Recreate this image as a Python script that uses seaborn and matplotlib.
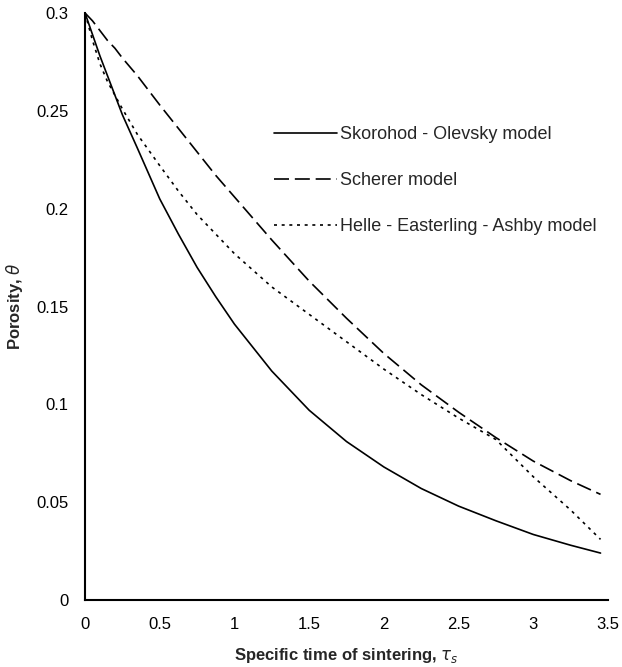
import numpy as np
import pandas as pd
import matplotlib
matplotlib.use("Agg")
import matplotlib.pyplot as plt
import seaborn as sns

time = [0, 0.05, 0.1, 0.15, 0.2, 0.25, 0.35, 0.5, 0.625, 0.75, 0.875, 1.0, 1.25, 1.5, 1.75, 2.0, 2.25, 2.5, 2.75, 3.0, 3.25, 3.45]
skorohod = [0.300, 0.289, 0.278, 0.268, 0.258, 0.248, 0.231, 0.205, 0.187, 0.170, 0.155, 0.141, 0.117, 0.097, 0.081, 0.068, 0.057, 0.048, 0.0405, 0.0335, 0.028, 0.024]
scherer = [0.300, 0.296, 0.291, 0.286, 0.282, 0.277, 0.268, 0.253, 0.241, 0.229, 0.217, 0.206, 0.184, 0.163, 0.144, 0.126, 0.110, 0.096, 0.083, 0.071, 0.061, 0.054]
helle = [0.300, 0.286, 0.274, 0.265, 0.258, 0.251, 0.238, 0.222, 0.209, 0.197, 0.187, 0.177, 0.160, 0.146, 0.132, 0.118, 0.105, 0.093, 0.082, 0.063, 0.046, 0.031]

labels = ["Skorohod - Olevsky model", "Scherer model", "Helle - Easterling - Ashby model"]
x_ticks = [0, 0.5, 1, 1.5, 2, 2.5, 3, 3.5]
x_tick_labels = ["0", "0.5", "1", "1.5", "2", "2.5", "3", "3.5"]
y_ticks = [0, 0.05, 0.1, 0.15, 0.2, 0.25, 0.3]
y_tick_labels = ["0", "0.05", "0.1", "0.15", "0.2", "0.25", "0.3"]

df = pd.concat([
    pd.DataFrame({"t": time, "theta": skorohod, "model": labels[0]}),
    pd.DataFrame({"t": time, "theta": scherer, "model": labels[1]}),
    pd.DataFrame({"t": time, "theta": helle, "model": labels[2]}),
], ignore_index=True)

sns.set_style("white")
plt.rcParams["font.family"] = ["Liberation Sans", "DejaVu Sans"]

fig = plt.figure(figsize=(6.22, 6.67), dpi=100)
ax = fig.add_axes([0.1367, 0.1004, 0.8408, 0.8801])

sns.lineplot(data=df, x="t", y="theta", hue="model", style="model",
             palette={l: "black" for l in labels},
             dashes={labels[0]: "", labels[1]: (9, 3.5), labels[2]: (1.8, 2.8)},
             linewidth=1.2, ax=ax, legend=True)

ax.set_xlim(0, 3.5)
ax.set_ylim(0, 0.3)
ax.set_xticks(x_ticks)
ax.set_xticklabels(x_tick_labels)
ax.set_yticks(y_ticks)
ax.set_yticklabels(y_tick_labels)
ax.tick_params(axis="x", direction="inout", length=9, width=1.2, labelsize=12, pad=8, colors="black")
ax.tick_params(axis="y", direction="out", length=6, width=1.2, labelsize=12, pad=6, colors="black")
for s in ["top", "right"]:
    ax.spines[s].set_visible(False)
for s in ["left", "bottom"]:
    ax.spines[s].set_color("black")
    ax.spines[s].set_linewidth(1.5)

ax.set_xlabel(r"Specific time of sintering, $\tau_s$", fontsize=12, fontweight="bold", labelpad=10)
ax.set_ylabel(r"Porosity, $\theta$", fontsize=12, fontweight="bold", labelpad=8)

leg = ax.legend(loc="upper left", bbox_to_anchor=(0.33, 0.835), frameon=False,
                fontsize=13, handlelength=3.5, handletextpad=0.15, labelspacing=1.6)
for h in leg.get_lines():
    h.set_linewidth(1.2)

fig.savefig("out.png", dpi=100)
